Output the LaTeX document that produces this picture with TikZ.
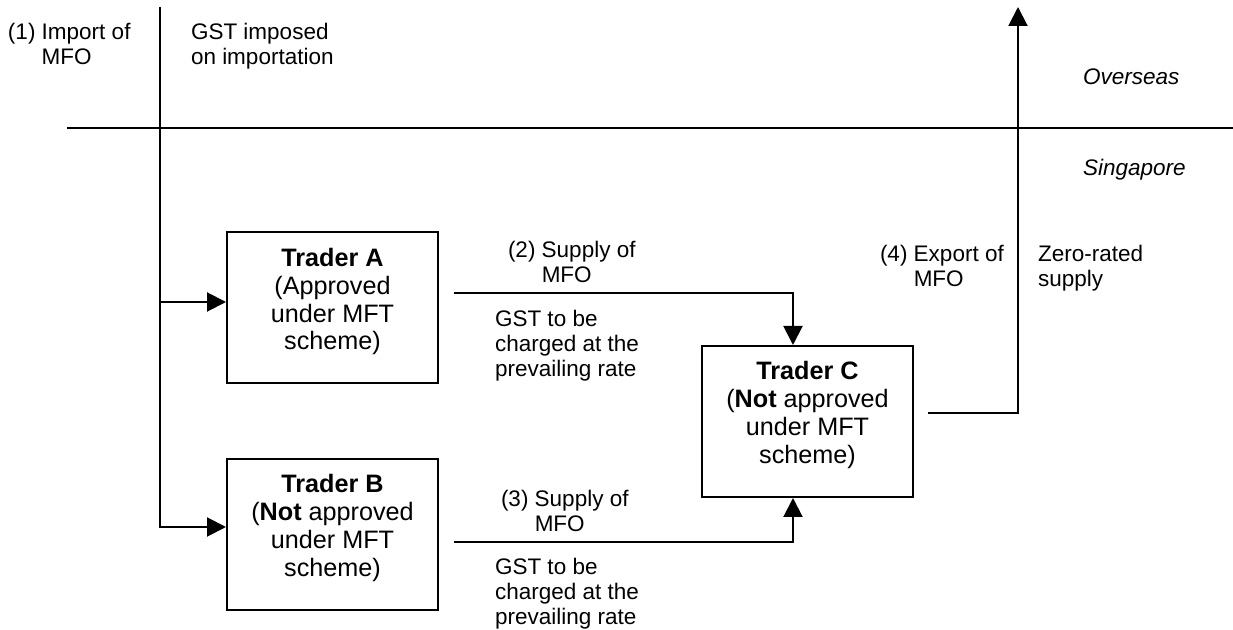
\documentclass[tikz,border=0pt]{standalone}
\usepackage{fontspec}
\setmainfont{Liberation Sans}
\usetikzlibrary{arrows.meta,positioning}

\begin{document}
\begin{tikzpicture}[x=0.5pt, y=-0.5pt, line width=1pt,
    trader/.style={rectangle, draw, minimum width=105.5pt, minimum height=75.5pt, align=center, font=\fontsize{12.6}{13.9}\selectfont, text depth=9pt},
    note/.style={anchor=north west, inner sep=0pt, align=left, font=\fontsize{11.25}{12.6}\selectfont},
    region/.style={note, font=\fontsize{11.25}{12.6}\selectfont\itshape},
    tip/.style={-{Triangle[length=9.5pt, width=9.5pt]}}]
    \useasboundingbox (0,0) rectangle (1233,630);

    % Border between overseas and Singapore
    \coordinate (borderL) at (67,128);
    \coordinate (borderR) at (1233,128);
    \draw (borderL) -- (borderR);
    \node (overseas) [region] at (1082,68) {Overseas};
    \node (singapore) [region] at (1082,158) {Singapore};

    % Traders
    \node (traderA) [trader] at (332.5,308) {\textbf{Trader A}\\(Approved\\under MFT\\scheme)};
    \node (traderB) [trader] at (332.5,534.5) {\textbf{Trader B}\\(\textbf{Not} approved\\under MFT\\scheme)};
    \node (traderC) [trader] at (807.5,421.5) {\textbf{Trader C}\\(\textbf{Not} approved\\under MFT\\scheme)};

    % Import
    \coordinate (import) at (160,7);
    \coordinate (aIn) at ([yshift=3pt]traderA.west);
    \coordinate (bIn) at ([yshift=3.75pt]traderB.west);
    \draw[tip] (import) |- (bIn);
    \draw[tip] (import |- aIn) -- (aIn);
    \node (importTxt) [note] at (7,22) {(1) Import of\\\hphantom{(1)~}MFO};
    \node (gstImport) [note] at (190,22) {GST imposed\\on importation};

    % Local supplies
    \coordinate (aOut) at ([xshift=7.5pt, yshift=7.5pt]traderA.east);
    \coordinate (bOut) at ([xshift=7.5pt, yshift=-3.75pt]traderB.east);
    \coordinate (cTop) at ([xshift=-7.25pt]traderC.north);
    \coordinate (cBot) at ([xshift=-7.25pt]traderC.south);
    \draw[tip] (aOut) -| (cTop);
    \draw[tip] (bOut) -| (cBot);
    \node (supplyA) [note] at (507,240) {(2) Supply of\\\hphantom{(2)~}MFO};
    \node (gstA) [note] at (494,309) {GST to be\\charged at the\\prevailing rate};
    \node (supplyB) [note] at (500,489) {(3) Supply of\\\hphantom{(3)~}MFO};
    \node (gstB) [note] at (494,557) {GST to be\\charged at the\\prevailing rate};

    % Export
    \coordinate (cOut) at ([xshift=7pt, yshift=4.25pt]traderC.east);
    \coordinate (exportTip) at (1018,7);
    \draw[tip] (cOut) -| (exportTip);
    \node (exportTxt) [note] at (879,244) {(4) Export of\\\hphantom{(4)~}MFO};
    \node (zeroTxt) [note] at (1037,244) {Zero-rated\\supply};
\end{tikzpicture}
\end{document}
